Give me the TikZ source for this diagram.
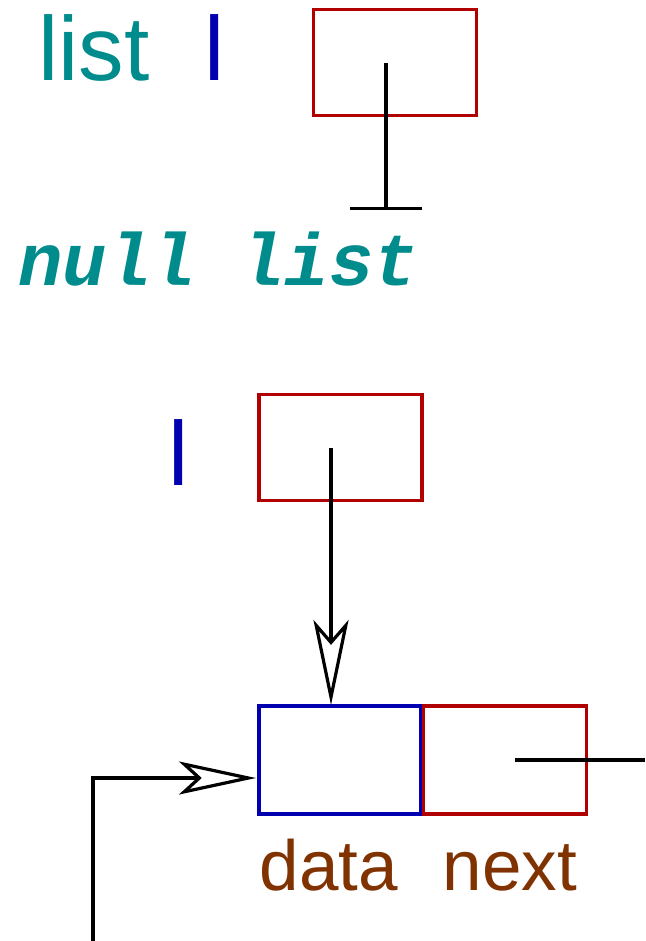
\documentclass[tikz,border=0pt]{standalone}
\usepackage{fontspec}
\newfontfamily\arialf{Liberation Sans}
\newfontfamily\monof{Liberation Mono}
\usetikzlibrary{arrows.meta}
\definecolor{tealc}{RGB}{0,140,140}
\definecolor{redc}{RGB}{176,0,0}
\definecolor{bluec}{RGB}{0,0,176}
\definecolor{brownc}{RGB}{128,50,0}
\tikzset{
  cell/.style={draw, line width=3.2pt, minimum width=163pt, minimum height=106pt, inner sep=0pt},
  ptr/.style={line width=3.2pt, black},
  bigtxt/.style={inner sep=0pt, font=\arialf\fontsize{91}{93}\selectfont},
  lbltxt/.style={inner sep=0pt, text=brownc, font=\arialf\fontsize{71}{74}\selectfont},
  openhead/.tip={Stealth[fill=white, length=85pt, width=35pt, inset=20pt]},
  openheadb/.tip={Stealth[fill=white, length=77pt, width=33pt, inset=18pt]}
}
\begin{document}
\begin{tikzpicture}[x=1pt, y=-1pt]
\useasboundingbox (0,0) rectangle (645,941);
% top: null list
\node[bigtxt, text=tealc, anchor=base west] (listlbl) at (38,81) {list};
\node[bigtxt, text=bluec, anchor=base west] (l1) at (204,81) {l};
\node[cell, draw=redc] (box1) at (395,62.5) {};
\coordinate (p1) at (386,63);
\coordinate (nul) at (386,210);
\draw[ptr, -{Bar[width=72pt]}] (p1) -- (nul);
\node[inner sep=0pt, anchor=base west, text=tealc, font=\monof\bfseries\itshape\fontsize{74}{78}\selectfont] (nulllbl) at (18,285) {null list};
% middle
\node[bigtxt, text=bluec, anchor=base west] (l2) at (168,485) {l};
\node[cell, draw=redc] (box2) at (340.5,447.5) {};
\coordinate (p2) at (331,448);
% bottom node
\node[cell, draw=bluec, minimum width=162pt, minimum height=108pt] (data) at (340,760) {};
\node[cell, draw=redc, minimum height=108pt] (next) at (505,760) {};
\coordinate (tip2) at (331,705);
\draw[ptr, -{openhead}] (p2) -- (tip2);
\coordinate (p3) at (515,760);
\coordinate (out) at (645,760);
\draw[ptr] (p3) -- (out);
\node[lbltxt, anchor=base] (datalbl) at (329,890) {data};
\node[lbltxt, anchor=base] (nextlbl) at (510,890) {next};
\coordinate (src) at (93,941);
\coordinate (tgt) at (256,778);
\draw[ptr, -{openheadb}] (src) |- (tgt);
\end{tikzpicture}
\end{document}
